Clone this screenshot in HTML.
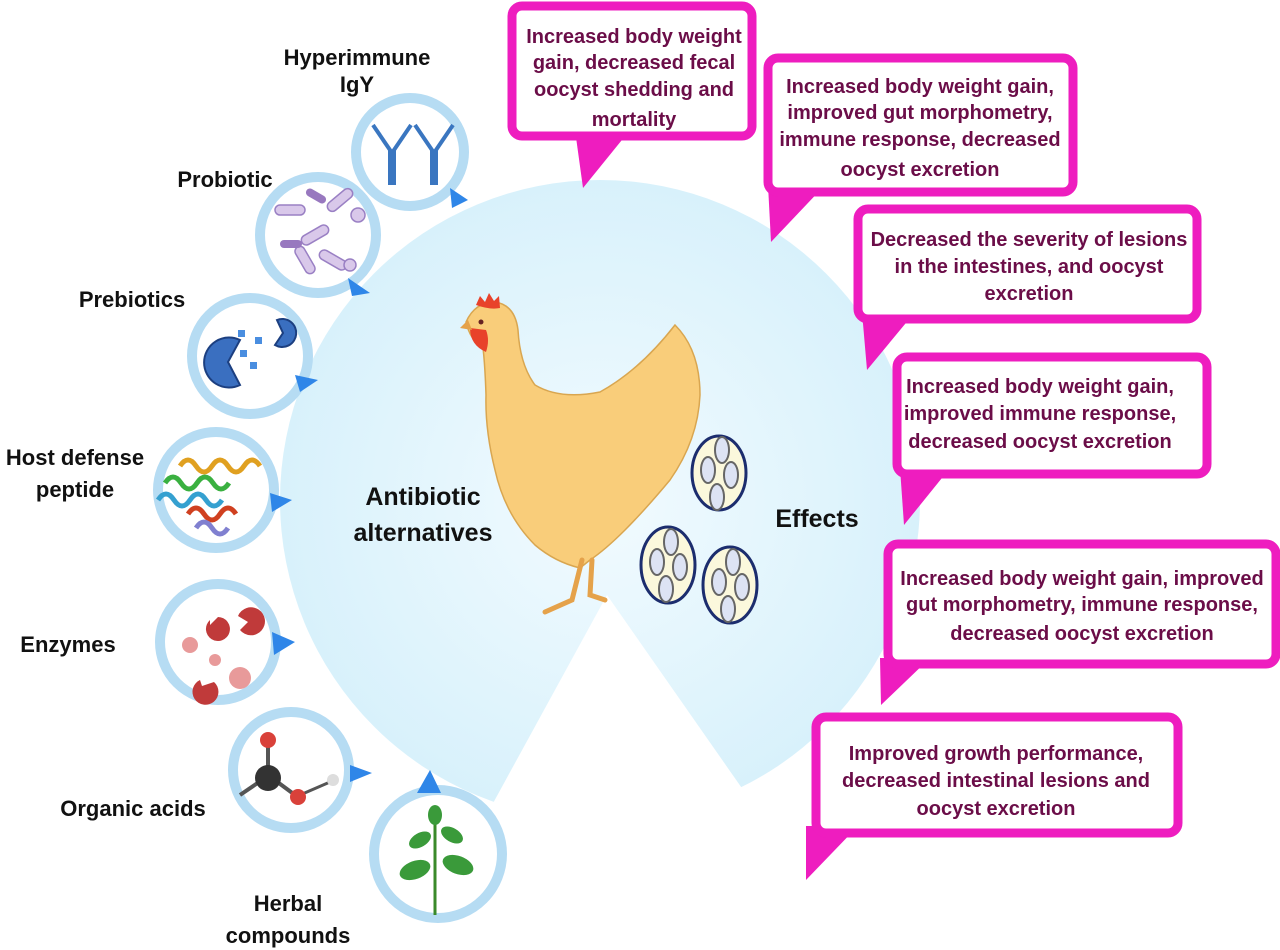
<!DOCTYPE html>
<html><head><meta charset="utf-8"><style>
html,body{margin:0;padding:0;background:#fff;width:1280px;height:950px;overflow:hidden}
svg text{font-family:"Liberation Sans",sans-serif;font-weight:bold}
</style></head><body>
<svg width="1280" height="950" viewBox="0 0 1280 950" xmlns="http://www.w3.org/2000/svg">
<defs>
<radialGradient id="bg" cx="0.5" cy="0.5" r="0.5"><stop offset="0" stop-color="#f2fbff"/><stop offset="1" stop-color="#d8f1fb"/></radialGradient>
</defs>
<circle cx="600" cy="500" r="320" fill="url(#bg)"/>
<polygon points="607,595 440,900 820,900" fill="#fff"/>
<!-- callouts -->
<g fill="#ee1dbf">
<polygon points="575,130 630,130 583,188"/>
<polygon points="768,185 825,185 771,242"/>
<polygon points="862,312 915,312 867,370"/>
<polygon points="900,468 950,468 904,525"/>
<polygon points="880,658 930,658 881,705"/>
<polygon points="806,826 858,826 806,880"/>
</g>
<g fill="#fff" stroke="#ee1dbf" stroke-width="9">
<rect x="512" y="6" width="240" height="130" rx="10"/>
<rect x="768" y="58" width="305" height="134" rx="10"/>
<rect x="858" y="209" width="339" height="110" rx="10"/>
<rect x="897" y="357" width="310" height="117" rx="10"/>
<rect x="888" y="544" width="388" height="120" rx="10"/>
<rect x="816" y="717" width="362" height="116" rx="10"/>
</g>
<g fill="#6b0d48" font-size="20" text-anchor="middle">
<text x="634" y="43">Increased body weight</text>
<text x="634" y="69">gain, decreased fecal</text>
<text x="634" y="96">oocyst shedding and</text>
<text x="634" y="126">mortality</text>
<text x="920" y="93">Increased body weight gain,</text>
<text x="920" y="119">improved gut morphometry,</text>
<text x="920" y="146">immune response, decreased</text>
<text x="920" y="176">oocyst excretion</text>
<text x="1029" y="246">Decreased the severity of lesions</text>
<text x="1029" y="273">in the intestines, and oocyst</text>
<text x="1029" y="300">excretion</text>
<text x="1040" y="393">Increased body weight gain,</text>
<text x="1040" y="420">improved immune response,</text>
<text x="1040" y="448">decreased oocyst excretion</text>
<text x="1082" y="585">Increased body weight gain, improved</text>
<text x="1082" y="611">gut morphometry, immune response,</text>
<text x="1082" y="640">decreased oocyst excretion</text>
<text x="996" y="760">Improved growth performance,</text>
<text x="996" y="787">decreased intestinal lesions and</text>
<text x="996" y="815">oocyst excretion</text>
</g>
<!-- left circles -->
<g>
<g stroke="#b6dcf3" stroke-width="10" fill="#fff">
<circle cx="410" cy="152" r="54"/>
<circle cx="318" cy="235" r="58"/>
<circle cx="250" cy="356" r="58"/>
<circle cx="216" cy="490" r="58"/>
<circle cx="218" cy="642" r="58"/>
<circle cx="291" cy="770" r="58"/>
<circle cx="438" cy="854" r="64"/>
</g>
<g fill="#2f86e8">
<polygon points="450,188 468,200 452,208"/>
<polygon points="348,278 370,293 352,296"/>
<polygon points="295,375 318,380 300,392"/>
<polygon points="270,493 292,500 272,512"/>
<polygon points="272,632 295,642 274,655"/>
<polygon points="350,765 372,773 350,782"/>
<polygon points="417,793 430,770 441,793"/>
</g>
<g stroke="#3a76c0" stroke-width="4" fill="none">
<path d="M390,185 V150 L373,125 M394,185 V150 L411,125 M432,185 V150 L415,125 M436,185 V150 L453,125"/>
</g>
<g fill="#d9c8ea" stroke="#9a80c4" stroke-width="1.5">
<rect x="300" y="230" width="30" height="10" rx="5" transform="rotate(-30 315 235)"/>
<rect x="275" y="205" width="30" height="10" rx="5"/>
<rect x="318" y="255" width="30" height="10" rx="5" transform="rotate(30 333 260)"/>
<rect x="290" y="255" width="30" height="10" rx="5" transform="rotate(60 305 260)"/>
<rect x="325" y="195" width="30" height="10" rx="5" transform="rotate(-40 340 200)"/>
<circle cx="358" cy="215" r="7"/><circle cx="350" cy="265" r="6"/>
</g>
<rect x="305" y="192" width="22" height="8" rx="4" fill="#9878bf" transform="rotate(30 316 196)"/>
<rect x="280" y="240" width="22" height="8" rx="4" fill="#9878bf"/>
<path d="M240,340 A25,25 0 1 0 240,385 L228,362Z" fill="#3a6fc0" stroke="#1c3f80" stroke-width="2"/>
<path d="M262,320 A14,14 0 1 1 260,345 L268,333Z" fill="#3a6fc0" stroke="#1c3f80" stroke-width="2" transform="translate(15,0)"/>
<g fill="#4a8ee0"><rect x="238" y="330" width="7" height="7"/><rect x="255" y="337" width="7" height="7"/><rect x="240" y="350" width="7" height="7"/><rect x="250" y="362" width="7" height="7"/></g>
<g stroke-width="5" fill="none">
<path d="M158,500 q8,-12 16,0 t16,0 t16,0 t16,0" stroke="#35a0d0"/>
<path d="M165,483 q8,-12 16,0 t16,0 t16,0 t16,0" stroke="#3ab040"/>
<path d="M180,466 q8,-12 16,0 t16,0 t16,0 t16,0 t16,0" stroke="#e0a020"/>
<path d="M188,514 q8,-12 16,0 t16,0 t16,0" stroke="#d04020"/>
<path d="M196,528 q8,-12 16,0 t16,0" stroke="#8080d0"/>
</g>
<g fill="#c03a3a">
<path d="M210,620 a12,12 0 1 0 8,-3 l-8,8z"/>
<path d="M240,630 a14,14 0 1 0 -2,-14 l10,6z"/>
<path d="M200,680 a13,13 0 1 0 14,2 l-12,4z"/>
</g>
<g fill="#e89a9a"><circle cx="190" cy="645" r="8"/><circle cx="240" cy="678" r="11"/><circle cx="215" cy="660" r="6"/></g>
<line x1="268" y1="745" x2="268" y2="770" stroke="#555" stroke-width="4"/>
<line x1="268" y1="775" x2="295" y2="795" stroke="#555" stroke-width="4"/>
<line x1="262" y1="780" x2="240" y2="795" stroke="#555" stroke-width="4"/>
<line x1="300" y1="795" x2="330" y2="782" stroke="#555" stroke-width="3"/>
<circle cx="268" cy="740" r="8" fill="#d9413a"/>
<circle cx="268" cy="778" r="13" fill="#333"/>
<circle cx="298" cy="797" r="8" fill="#d9413a"/>
<circle cx="333" cy="780" r="6" fill="#ddd"/>
<g fill="#3a9a3a">
<line x1="435" y1="915" x2="435" y2="815" stroke="#3a8a2a" stroke-width="3"/>
<ellipse cx="415" cy="870" rx="16" ry="9" transform="rotate(-20 415 870)"/>
<ellipse cx="458" cy="865" rx="16" ry="9" transform="rotate(20 458 865)"/>
<ellipse cx="420" cy="840" rx="12" ry="7" transform="rotate(-30 420 840)"/>
<ellipse cx="452" cy="835" rx="12" ry="7" transform="rotate(30 452 835)"/>
<ellipse cx="435" cy="815" rx="7" ry="10"/>
</g>
</g>
<g fill="#111" font-size="22" text-anchor="middle">
<text x="357" y="65">Hyperimmune</text>
<text x="357" y="92">IgY</text>
<text x="225" y="187">Probiotic</text>
<text x="132" y="307">Prebiotics</text>
<text x="75" y="465">Host defense</text>
<text x="75" y="497">peptide</text>
<text x="68" y="652">Enzymes</text>
<text x="133" y="816">Organic acids</text>
<text x="288" y="911">Herbal</text>
<text x="288" y="943">compounds</text>
<text x="423" y="505" font-size="25">Antibiotic</text>
<text x="423" y="541" font-size="25">alternatives</text>
<text x="817" y="527" font-size="25">Effects</text>
</g>
<!-- chicken -->
<path d="M466,322 Q475,302 495,302 Q515,305 518,330 Q520,365 535,385 Q560,400 600,392 Q640,370 675,325 Q700,350 700,395 Q698,440 670,480 Q645,510 625,530 Q605,550 590,560 L580,568 Q555,562 535,545 Q505,515 495,470 Q485,430 486,395 Q485,365 483,348 Q470,340 466,322 Z" fill="#f9cd7a" stroke="#d9a650" stroke-width="1.5"/>
<path d="M476,305 l4,-9 l5,6 l4,-9 l5,8 l5,-5 l1,12 Q490,310 476,305Z" fill="#e8422a"/>
<path d="M470,328 Q470,345 486,352 Q490,340 486,330Z" fill="#e8422a"/>
<path d="M468,320 L460,328 L472,330Z" fill="#e5a24a"/>
<circle cx="481" cy="322" r="2.5" fill="#622"/>
<g stroke="#e5a24a" stroke-width="5" fill="none" stroke-linecap="round">
<path d="M582,560 L572,600 L545,612"/><path d="M592,560 L590,595 L605,600"/>
</g>
<g stroke="#1c2d6e" stroke-width="3" fill="#fbf8dc">
<ellipse cx="719" cy="473" rx="27" ry="37"/>
<ellipse cx="668" cy="565" rx="27" ry="38"/>
<ellipse cx="730" cy="585" rx="27" ry="38"/>
</g>
<g stroke="#666" stroke-width="2" fill="#dde3f4">
<ellipse cx="722" cy="450" rx="7" ry="13"/><ellipse cx="708" cy="470" rx="7" ry="13"/><ellipse cx="731" cy="475" rx="7" ry="13"/><ellipse cx="717" cy="497" rx="7" ry="13"/>
<ellipse cx="671" cy="542" rx="7" ry="13"/><ellipse cx="657" cy="562" rx="7" ry="13"/><ellipse cx="680" cy="567" rx="7" ry="13"/><ellipse cx="666" cy="589" rx="7" ry="13"/>
<ellipse cx="733" cy="562" rx="7" ry="13"/><ellipse cx="719" cy="582" rx="7" ry="13"/><ellipse cx="742" cy="587" rx="7" ry="13"/><ellipse cx="728" cy="609" rx="7" ry="13"/>
</g>
</svg>
</body></html>
